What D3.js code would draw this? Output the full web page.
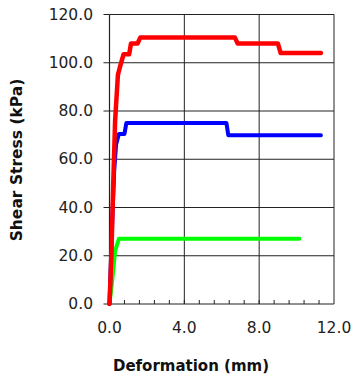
<!DOCTYPE html>
<html><head><meta charset="utf-8">
<script src="https://cdn.jsdelivr.net/npm/d3@7"></script>
<style>body{margin:0;background:#fff}svg{display:block}</style>
</head><body>
<script>
const xTicks = [0, 4, 8, 12];
const yTicks = [0, 20, 40, 60, 80, 100, 120];
const redX = [0, 0.1, 0.2, 0.3, 0.45, 0.55, 0.75, 1.05, 1.15, 1.5, 1.65, 6.7, 6.85, 9.0, 9.15, 11.3];
const redY = [0, 20, 50, 76, 95, 98, 103.5, 103.5, 108, 108, 110.5, 110.5, 108, 108, 104, 104];
const blueX = [0, 0.15, 0.25, 0.35, 0.5, 0.8, 0.9, 6.25, 6.35, 11.3];
const blueY = [0, 35, 55, 66, 70.5, 70.5, 75, 75, 70, 70];
const greenX = [0, 0.15, 0.3, 0.5, 10.15];
const greenY = [0, 10, 22, 27, 27];

const W = 354, H = 378;
const svg = d3.select("body").append("svg").attr("width", W).attr("height", H);
const x = d3.scaleLinear().domain([0, 12]).range([109.5, 334]);
const y = d3.scaleLinear().domain([0, 120]).range([304, 14.5]);
const font = "DejaVu Sans";

// gridlines
svg.append("g").selectAll("line").data(yTicks.filter(d => d > 0)).join("line")
  .attr("x1", x(0)).attr("x2", x(12)).attr("y1", d => y(d)).attr("y2", d => y(d))
  .attr("stroke", "#222").attr("stroke-width", 1);
svg.append("g").selectAll("line").data(xTicks.filter(d => d > 0)).join("line")
  .attr("y1", y(0)).attr("y2", y(120)).attr("x1", d => x(d)).attr("x2", d => x(d))
  .attr("stroke", "#222").attr("stroke-width", 1);

// minor ticks on x-axis (inside)
const minor = d3.range(0.8, 12, 0.8);
svg.append("g").selectAll("line").data(minor).join("line")
  .attr("x1", d => x(d)).attr("x2", d => x(d)).attr("y1", y(0)).attr("y2", y(0) - 4)
  .attr("stroke", "#222");

// axes lines
svg.append("line").attr("x1", x(0)).attr("x2", x(0)).attr("y1", y(0)).attr("y2", y(120)).attr("stroke", "#222").attr("stroke-width", 1.2);
svg.append("line").attr("x1", x(0)).attr("x2", x(12)).attr("y1", y(0)).attr("y2", y(0)).attr("stroke", "#222").attr("stroke-width", 1.2);
// y major ticks outside
svg.append("g").selectAll("line").data(yTicks).join("line")
  .attr("x1", x(0) - 6).attr("x2", x(0)).attr("y1", d => y(d)).attr("y2", d => y(d)).attr("stroke", "#222");

// tick labels
svg.append("g").selectAll("text").data(yTicks).join("text")
  .attr("x", 93).attr("y", d => y(d)).attr("text-anchor", "end").attr("dominant-baseline", "central")
  .attr("font-family", font).attr("font-size", 15.5).attr("fill", "#222").text(d => d.toFixed(1));
svg.append("g").selectAll("text").data(xTicks).join("text")
  .attr("x", d => x(d)).attr("y", 328).attr("text-anchor", "middle").attr("dominant-baseline", "central")
  .attr("font-family", font).attr("font-size", 15.5).attr("fill", "#222").text(d => d.toFixed(1));

// titles
svg.append("text").attr("x", 191).attr("y", 366).attr("text-anchor", "middle").attr("dominant-baseline", "central")
  .attr("font-family", font).attr("font-weight", "bold").attr("font-size", 15).attr("fill", "#111").text("Deformation (mm)");
svg.append("text").attr("transform", "translate(17,160) rotate(-90)").attr("text-anchor", "middle").attr("dominant-baseline", "central")
  .attr("font-family", font).attr("font-weight", "bold").attr("font-size", 15.5).attr("fill", "#111").text("Shear Stress (kPa)");

// series
const line = d3.line().x(d => x(d[0])).y(d => y(d[1]));
const series = [
  {xs: greenX, ys: greenY, c: "#00ff00", w: 4},
  {xs: blueX, ys: blueY, c: "#0000ff", w: 4},
  {xs: redX, ys: redY, c: "#ff0000", w: 4.5}
];
series.forEach(s => {
  svg.append("path").datum(s.xs.map((v, i) => [v, s.ys[i]]))
    .attr("d", line).attr("fill", "none").attr("stroke", s.c).attr("stroke-width", s.w)
    .attr("stroke-linejoin", "round").attr("stroke-linecap", "round");
});
</script>
</body></html>
